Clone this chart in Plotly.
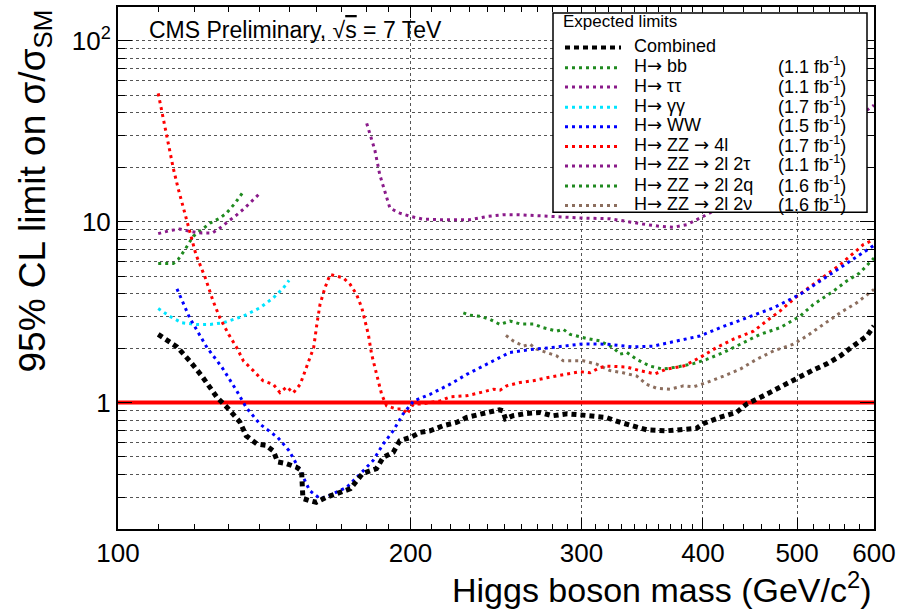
import plotly.graph_objects as go

# Expected 95% CL upper limits on sigma/sigma_SM vs Higgs mass (GeV/c^2)
combined = [(110, 2.38), (115, 2.03), (118.5, 1.70), (122, 1.40), (126.5, 1.065), (129.5, 0.94),
            (133.5, 0.78), (135.5, 0.655), (139, 0.59), (142, 0.58), (144.5, 0.54), (146, 0.47),
            (149, 0.46), (152.5, 0.44), (154.5, 0.42), (155, 0.295), (157.5, 0.287), (160, 0.281),
            (164, 0.30), (168, 0.314), (173.5, 0.334), (178.5, 0.405), (184.5, 0.431), (187.5, 0.498),
            (192, 0.53), (195, 0.615), (200, 0.641), (204.5, 0.683), (209.5, 0.698), (216, 0.744),
            (223, 0.776), (228.5, 0.827), (236, 0.855), (240, 0.881), (247, 0.912), (249, 0.90),
            (250.5, 0.813), (255, 0.845), (263, 0.87), (272, 0.881), (280, 0.845), (290, 0.866),
            (299, 0.855), (308, 0.845), (318, 0.827), (329, 0.776), (339, 0.744), (350, 0.707),
            (367, 0.698), (381, 0.71), (394, 0.72), (400, 0.763), (416, 0.827), (433, 0.881),
            (444, 0.984), (458, 1.065), (472, 1.16), (488, 1.27), (503, 1.37), (519, 1.51),
            (536, 1.63), (554, 1.81), (571, 2.05), (590, 2.33), (600, 2.65)]

h_bb = [(110, 5.86), (114, 5.86), (115.3, 6.17), (117.2, 7.0), (119.5, 8.29), (121.4, 8.83),
        (124.4, 9.81), (127.3, 10.45), (129.3, 11.14), (132, 12.65), (134.6, 14.67)]

h_tautau = [(110, 8.58), (113, 8.91), (115.8, 9.09), (118.6, 8.83), (122, 8.64), (125, 8.64),
            (127.3, 9.21), (130, 10.0), (132.5, 10.9), (135, 11.87), (137.8, 13.2), (140, 14.36)]

h_gamgam = [(110, 3.31), (113, 3.00), (116.3, 2.76), (120.5, 2.70), (124.4, 2.70), (128.3, 2.76),
            (134.6, 3.00), (140, 3.34), (144.5, 3.79), (148, 4.30), (150, 4.73)]

h_ww = [(115, 4.25), (118.5, 2.94), (123.5, 2.01), (128, 1.56), (132.5, 1.16), (135.5, 0.939),
        (140, 0.76), (146, 0.641), (150, 0.542), (154, 0.42), (157.5, 0.326), (161.5, 0.294),
        (165, 0.306), (172, 0.34), (177.5, 0.403), (183, 0.477), (187.5, 0.59), (192, 0.698),
        (196.5, 0.863), (201.5, 1.02), (209.5, 1.11), (219.5, 1.26), (228.5, 1.43), (247, 1.77),
        (253, 1.89), (267.5, 1.97), (278.5, 2.01), (301, 2.11), (318.5, 2.10), (339, 2.03),
        (355.5, 2.05), (376, 2.19), (397, 2.33), (416.5, 2.59), (447, 3.00), (473, 3.34),
        (503.5, 3.96), (528, 4.68), (567, 6.04), (600, 7.39)]

h_zz4l = [(110, 51.1), (111.3, 37.2), (112.6, 26.5), (114, 19.7), (115.3, 15.3), (117, 11.4),
          (118.6, 8.83), (120.3, 6.57), (123, 4.88), (125.3, 3.63), (127.3, 2.94), (130, 2.38),
          (132.5, 2.01), (134.6, 1.70), (137.8, 1.50), (141, 1.32), (144.5, 1.26), (146.8, 1.135),
          (149.2, 1.22), (151.5, 1.13), (154, 1.26), (156.4, 1.56), (159, 2.01), (160.2, 2.70),
          (161.4, 3.48), (163.3, 4.30), (165.3, 5.10), (168, 4.99), (170.6, 4.88), (173.4, 4.49),
          (176, 3.96), (178.2, 3.34), (179.6, 2.82), (181, 2.38), (182.4, 1.85), (184.6, 1.43),
          (186.8, 1.11), (189, 0.959), (193.6, 0.92), (196.6, 0.92), (198.3, 0.863), (201.4, 0.98),
          (204.6, 0.98), (209.5, 1.0), (214.5, 1.02), (219.7, 1.075), (228.5, 1.09), (236, 1.135),
          (243.4, 1.185), (247.3, 1.17), (251.2, 1.236), (259.3, 1.29), (267.6, 1.32), (276.2, 1.37),
          (287.3, 1.43), (299, 1.48), (306, 1.46), (313.4, 1.56), (318.4, 1.59), (334, 1.57),
          (344.6, 1.50), (357, 1.44), (367, 1.53), (382, 1.59), (397, 1.77), (413, 2.01),
          (430, 2.24), (451, 2.48), (465, 2.82), (480, 3.20), (500, 3.87), (520, 4.49),
          (528, 4.79), (554, 5.79), (569, 6.57), (585, 7.46), (600, 7.95)]

h_zz2l2tau = [(180.3, 34.9), (181.7, 30.7), (183.8, 24.9), (186, 18.1), (188.3, 14.36), (190.5, 11.87),
              (195, 11.14), (200, 10.68), (206, 10.32), (216, 10.24), (230, 10.24), (240, 10.68),
              (249, 10.9), (259, 10.9), (280, 10.68), (301, 10.45), (321, 10.37), (334, 10.0),
              (347, 9.69), (361, 9.41), (373, 9.3), (385, 9.62), (402, 10.8), (450, 15.0),
              (500, 21.0), (550, 30.0), (589, 41.0), (600, 44.0)]

h_zz2l2q = [(226.7, 3.13), (230.3, 3.04), (235.8, 3.00), (241.5, 2.88), (247.3, 2.70), (253.2, 2.82),
            (259.3, 2.72), (267.6, 2.72), (274, 2.59), (282.8, 2.48), (287.3, 2.54), (292, 2.38),
            (303.7, 2.26), (313.4, 2.19), (323.4, 2.01), (328.6, 1.85), (334, 1.89), (342, 1.73),
            (352.8, 1.59), (364, 1.53), (375.8, 1.57), (391, 1.64), (403.5, 1.73), (420, 1.89),
            (437, 2.10), (458, 2.38), (480, 2.59), (503.5, 3.00), (519.6, 3.48), (545, 4.13),
            (562, 4.68), (580, 5.20), (600, 6.29)]

h_zz2l2nu = [(250.8, 2.35), (255.2, 2.19), (261.3, 2.05), (265.5, 2.10), (269.8, 1.97), (276.2, 1.89),
             (282.8, 1.81), (287.3, 1.70), (294.2, 1.70), (301.3, 1.70), (311, 1.63), (321, 1.50),
             (331, 1.46), (342, 1.40), (350, 1.26), (358.4, 1.20), (370, 1.185), (382, 1.236),
             (391, 1.22), (403.5, 1.29), (420, 1.40), (437, 1.53), (454, 1.73), (473, 1.93),
             (495.5, 2.10), (511.5, 2.33), (532, 2.70), (553.6, 3.13), (576, 3.56), (600, 4.22)]

ARROW = "<span style='font-family:DejaVu Sans'>\u2192</span>"
channel_labels = ["Combined", "H" + ARROW + " bb", "H" + ARROW + " \u03c4\u03c4", "H" + ARROW + " \u03b3\u03b3",
                  "H" + ARROW + " WW", "H" + ARROW + " ZZ " + ARROW + " 4l",
                  "H" + ARROW + " ZZ " + ARROW + " 2l 2\u03c4", "H" + ARROW + " ZZ " + ARROW + " 2l 2q",
                  "H" + ARROW + " ZZ " + ARROW + " 2l 2\u03bd"]
lumi_labels = ["", "1.1", "1.1", "1.7", "1.5", "1.7", "1.1", "1.6", "1.6"]

x_tick_vals = [100, 200, 300, 400, 500, 600]
y_tick_vals = [1, 10, 100]
y_tick_text = ["1", "10", "10<sup>2</sup>"]

series = [combined, h_bb, h_tautau, h_gamgam, h_ww, h_zz4l, h_zz2l2tau, h_zz2l2q, h_zz2l2nu]
colors = ["#000000", "#1f8a1f", "#8a1a8a", "#00e5ff", "#0000ff", "#ff0000", "#8a1a8a", "#1f8a1f", "#8c6e5e"]
widths = [5, 3, 3, 3, 3, 3, 3, 3, 3]
dashes = ["5px,4px", "3px,4px", "3px,4px", "3px,4px", "3px,4px", "3px,4px", "3px,4px", "3px,4px", "3px,4px"]

FONT = "Liberation Sans, Arial, Helvetica, sans-serif"

fig = go.Figure()

# unit line sigma/sigma_SM = 1
fig.add_trace(go.Scatter(x=[100, 600], y=[1, 1], mode="lines",
                         line=dict(color="#ff0000", width=4), hoverinfo="skip"))

draw_order = [6, 1, 2, 3, 7, 8, 5, 4, 0]
for i in draw_order:
    pts = series[i]
    fig.add_trace(go.Scatter(x=[p[0] for p in pts], y=[p[1] for p in pts], mode="lines",
                             name=channel_labels[i],
                             line=dict(color=colors[i], width=widths[i], dash=dashes[i])))

# plot area in pixels: x 118..874, y 5..529
L, R, T, B = 118, 874, 5, 529
def px(xp):
    return (xp - L) / (R - L)
def py(yp):
    return (B - yp) / (B - T)

shapes = []
annotations = []

# legend box (opaque, covers curves behind it)
shapes.append(dict(type="rect", xref="paper", yref="paper", x0=px(553), x1=px(867),
                   y0=py(211), y1=py(11), fillcolor="white", line=dict(color="black", width=1.5),
                   layer="above"))
annotations.append(dict(xref="paper", yref="paper", x=px(561), y=py(20), text="Expected limits",
                        xanchor="left", yanchor="middle", showarrow=False,
                        font=dict(family=FONT, size=17, color="black")))
row_y = [42.7, 62.9, 82.4, 102.6, 122.2, 142, 161.6, 181.8, 201.3]
for i, yy in enumerate(row_y):
    shapes.append(dict(type="line", xref="paper", yref="paper", x0=px(565), x1=px(621),
                       y0=py(yy + 3), y1=py(yy + 3),
                       line=dict(color=colors[i], width=widths[i] - 1 if i == 0 else widths[i],
                                 dash=dashes[i]), layer="above"))
    annotations.append(dict(xref="paper", yref="paper", x=px(632), y=py(yy + 1), text=channel_labels[i],
                            xanchor="left", yanchor="middle", showarrow=False,
                            font=dict(family=FONT, size=18, color="black")))
    if lumi_labels[i]:
        annotations.append(dict(xref="paper", yref="paper", x=px(848), y=py(yy + 1),
                                text="(" + lumi_labels[i] + " fb<sup>-1</sup>)",
                                xanchor="right", yanchor="middle", showarrow=False,
                                font=dict(family=FONT, size=18, color="black")))

annotations.append(dict(xref="paper", yref="paper", x=px(147), y=py(28),
                        text="CMS Preliminary, \u221a<span style='text-decoration:overline'>s</span> = 7 TeV",
                        xanchor="left", yanchor="middle", showarrow=False,
                        font=dict(family=FONT, size=23, color="black")))
annotations.append(dict(xref="paper", yref="paper", x=1.0, y=py(588),
                        text="Higgs boson mass (GeV/c<sup>2</sup>)",
                        xanchor="right", yanchor="middle", showarrow=False,
                        font=dict(family=FONT, size=34, color="black")))
annotations.append(dict(xref="paper", yref="paper", x=px(35), y=py(6),
                        text="95% CL limit on \u03c3/\u03c3<sub>SM</sub>", textangle=-90,
                        xanchor="center", yanchor="top", showarrow=False,
                        font=dict(family=FONT, size=37, color="black")))

x_minor = [110, 120, 130, 140, 150, 160, 170, 180, 190, 210, 220, 230, 240, 250, 260, 270, 280, 290,
           310, 320, 330, 340, 350, 360, 370, 380, 390, 420, 440, 460, 480, 520, 540, 560, 580]
y_minor = [0.2, 0.3, 0.4, 0.5, 0.6, 0.7, 0.8, 0.9, 2, 3, 4, 5, 6, 7, 8, 9,
           20, 30, 40, 50, 60, 70, 80, 90]

gridc = "#555555"
fig.update_layout(
    width=905, height=610,
    margin=dict(l=L, r=905 - R, t=T, b=610 - B),
    paper_bgcolor="white", plot_bgcolor="white",
    showlegend=False,
    shapes=shapes, annotations=annotations,
    xaxis=dict(type="log", range=[2, 2.77815], autorange=False,
               tickmode="array", tickvals=x_tick_vals, ticktext=[str(v) for v in x_tick_vals],
               ticks="inside", ticklen=11, tickwidth=1, tickcolor="black",
               showline=True, linecolor="black", linewidth=2, mirror="ticks",
               showgrid=True, gridcolor=gridc, griddash="dot", gridwidth=1,
               tickfont=dict(family=FONT, size=26, color="black"),
               minor=dict(tickmode="array", tickvals=x_minor, ticks="inside", ticklen=5,
                          tickcolor="black", showgrid=False),
               zeroline=False),
    yaxis=dict(type="log", range=[-0.699, 2.186], autorange=False,
               tickmode="array", tickvals=y_tick_vals, ticktext=y_tick_text,
               ticks="inside", ticklen=14, tickwidth=1, tickcolor="black",
               showline=True, linecolor="black", linewidth=2, mirror="ticks",
               showgrid=True, gridcolor=gridc, griddash="dot", gridwidth=1,
               tickfont=dict(family=FONT, size=26, color="black"),
               minor=dict(tickmode="array", tickvals=y_minor, ticks="inside", ticklen=7,
                          tickcolor="black", showgrid=True, gridcolor=gridc, griddash="dot",
                          gridwidth=1),
               zeroline=False),
)

fig.write_html("out.html")
